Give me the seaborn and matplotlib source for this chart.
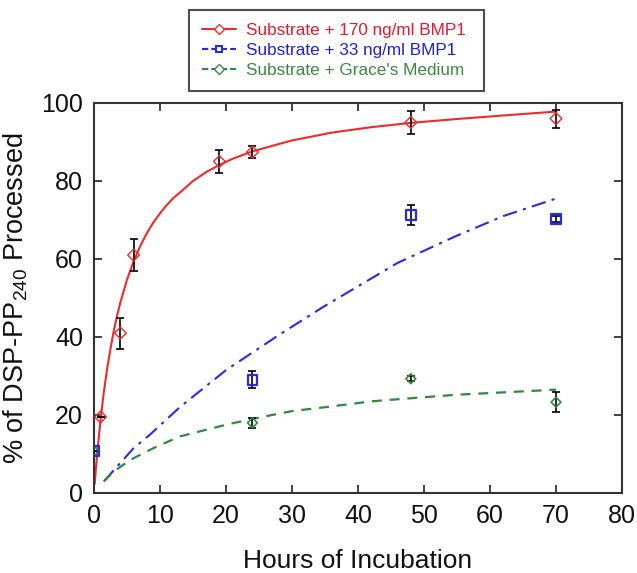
import matplotlib
matplotlib.use("Agg")
import matplotlib.pyplot as plt
from matplotlib.lines import Line2D
import seaborn as sns
import pandas as pd

# ---- data ----
labels = ["Substrate + 170 ng/ml BMP1", "Substrate + 33 ng/ml BMP1", "Substrate + Grace's Medium"]

# measured points (hours, % processed, error)
red_t = [1, 4, 6, 19, 24, 48, 70]
red_y = [19.5, 41, 61, 85, 87.4, 95, 96]
red_e = [0, 4, 4, 3, 1.5, 3, 2.3]

blue_t = [0, 24, 48, 70]
blue_y = [10.8, 29, 71.3, 70.2]
blue_e = [0, 2.2, 2.6, 0.8]

green_t = [0, 24, 48, 70]
green_y = [10.8, 18, 29.3, 23.3]
green_e = [0, 1.3, 0.6, 2.6]

# fitted curves
red_curve_t = [0.1, 0.25, 0.5, 1, 1.5, 2, 2.5, 3, 3.5, 4, 5, 6, 7, 8, 9, 10, 11, 12, 13,
               15, 17, 19, 21, 24, 30, 36, 42, 48, 55, 62, 70]
red_curve_y = [2.3, 5.5, 10.4, 18.9, 26, 32, 37, 41.6, 45.5, 48.9, 54.7, 59.4, 63.3, 66.6,
               69.4, 71.7, 73.8, 75.6, 77, 80, 82.3, 84.1, 85.7, 87.6, 90.4, 92.4, 93.8,
               94.9, 95.9, 96.8, 97.8]

blue_curve_t = [1.5, 6, 8.5, 13, 20, 28, 35, 42, 46, 55, 62, 70]
blue_curve_y = [3, 11.5, 15, 22, 31.5, 40.5, 48, 55, 59, 66, 71, 75.5]

green_curve_t = [1.5, 3, 5.5, 9, 13, 20, 24, 30, 35, 42, 48, 55, 62, 70]
green_curve_y = [3, 5.5, 8.5, 11.5, 14.5, 17.5, 19, 21, 22, 23.5, 24.3, 25.2, 25.8, 26.5]

x_ticks = [0, 10, 20, 30, 40, 50, 60, 70, 80]
y_ticks = [0, 20, 40, 60, 80, 100]

# ---- style ----
sns.set_style("ticks")
plt.rcParams["font.family"] = ["Liberation Sans", "DejaVu Sans"]
plt.rcParams["mathtext.fontset"] = "custom"
plt.rcParams["mathtext.rm"] = "Liberation Sans"
plt.rcParams["mathtext.it"] = "Liberation Sans"
plt.rcParams["mathtext.default"] = "regular"

RED = "#ee2b2b"
BLUE = "#2a2ae6"
GREEN = "#2f8a3c"
RED_T = "#e8192c"
BLUE_T = "#1f1fe0"
GREEN_T = "#3a8a3a"
SPINE = "#333333"

fig = plt.figure(figsize=(6.37, 5.73), dpi=100)
ax = fig.add_axes([94 / 637, (573 - 493) / 573, (622 - 94) / 637, (493 - 103) / 573])

curves = [
    (red_curve_t, red_curve_y, RED, "-", 1.5),
    (blue_curve_t, blue_curve_y, BLUE, (0, (7, 3, 1.5, 3)), 1.5),
    (green_curve_t, green_curve_y, GREEN, (0, (4.5, 3.5)), 1.6),
]
for t, y, c, ls, lw in curves:
    df = pd.DataFrame({"t": t, "y": y})
    sns.lineplot(data=df, x="t", y="y", ax=ax, color=c, linestyle=ls, linewidth=lw,
                 sort=False, legend=False)

points = [
    (green_t, green_y, green_e, GREEN, "D", 5, 1.2),
    (blue_t, blue_y, blue_e, BLUE, "s", 7, 1.6),
    (red_t, red_y, red_e, RED, "D", 6, 1.0),
]
for t, y, e, c, m, ms, mew in points:
    ax.errorbar(t, y, yerr=e, fmt="none", ecolor="black", elinewidth=1.2,
                capsize=3, capthick=1.2, zorder=3)
    df = pd.DataFrame({"t": t, "y": y})
    sns.scatterplot(data=df, x="t", y="y", ax=ax, marker=m, s=ms ** 2,
                    facecolors="none", edgecolor=c, linewidth=mew, zorder=4, legend=False)

ax.set_xlim(0, 80)
ax.set_ylim(0, 100)
ax.set_xticks(x_ticks)
ax.set_yticks(y_ticks)
ax.tick_params(direction="in", length=6, width=1.3, color=SPINE, labelsize=18,
               labelcolor="#111111", top=True, right=True, pad=8)
for s in ax.spines.values():
    s.set_visible(True)
    s.set_color(SPINE)
    s.set_linewidth(1.5)

ax.set_xlabel("Hours of Incubation", fontsize=19, labelpad=15, color="#111111")
ax.set_ylabel("% of DSP-PP$_{240}$ Processed", fontsize=19.5, labelpad=8, color="#111111")

handles = [
    Line2D([0], [0], color=RED, linestyle="-", linewidth=1.5, marker="D", markersize=5,
           markerfacecolor="white", markeredgecolor=RED),
    Line2D([0], [0], color=BLUE, linestyle=(0, (3, 1.5)), linewidth=1.5, marker="s", markersize=5,
           markerfacecolor="white", markeredgecolor=BLUE, markeredgewidth=1.5),
    Line2D([0], [0], color=GREEN, linestyle=(0, (3, 1.5)), linewidth=1.5, marker="D", markersize=5,
           markerfacecolor="white", markeredgecolor=GREEN),
]
leg = fig.legend(handles, labels, loc="upper left",
                 bbox_to_anchor=(189 / 637, 1 - 90 / 573, (484 - 189) / 637, 80 / 573),
                 mode="expand",
                 fontsize=12.3, frameon=True, fancybox=False, edgecolor="#222222",
                 handlelength=2.0, handletextpad=0.6, labelspacing=0.3, borderpad=0.75,
                 borderaxespad=0.0,
                 labelcolor=[RED_T, BLUE_T, GREEN_T])
leg.get_frame().set_linewidth(1.5)

fig.savefig("out.png", dpi=100)
